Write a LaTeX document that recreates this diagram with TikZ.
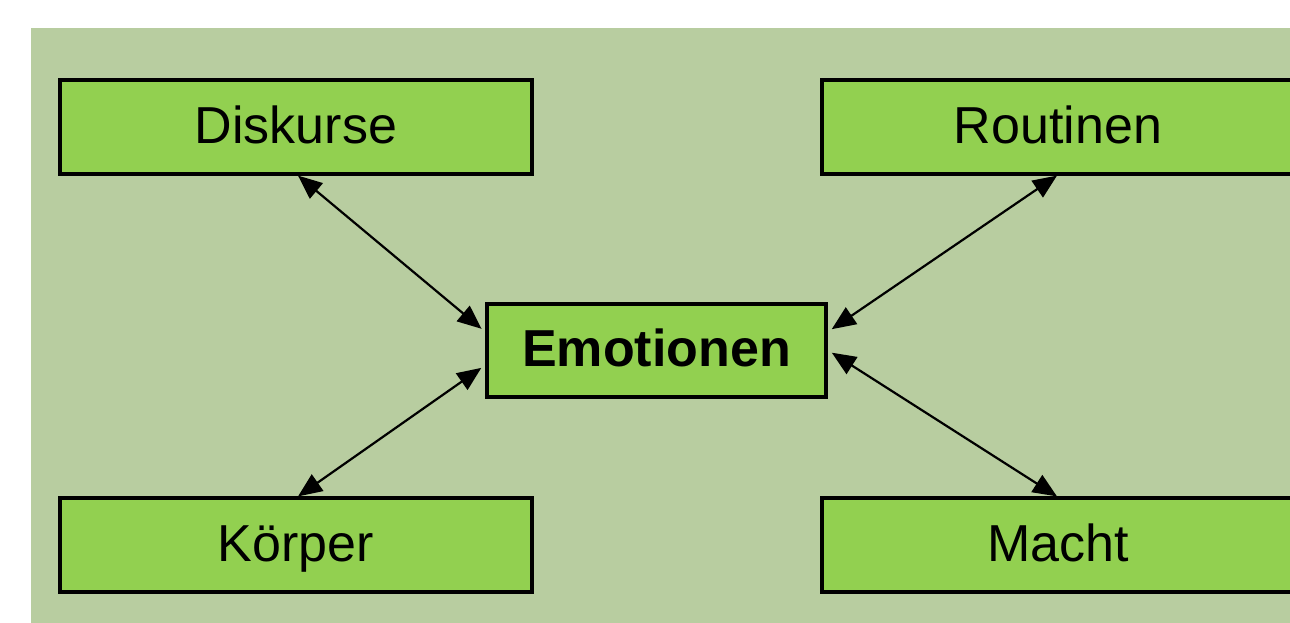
\documentclass[tikz,border=0pt]{standalone}
\usepackage{fontspec}
\setmainfont{Liberation Sans}
\usetikzlibrary{arrows.meta,calc}
\definecolor{bggreen}{HTML}{B8CDA0}
\definecolor{boxgreen}{HTML}{92D050}
\begin{document}
\begin{tikzpicture}[x=1pt,y=-1pt,
  box/.style={draw=black,line width=3.2pt,fill=boxgreen,inner sep=0pt,
    text height=37pt,text depth=5pt,
    minimum width=472pt,minimum height=94pt,font=\fontsize{52}{60}\selectfont},
  link/.style={line width=2.2pt,{Triangle[length=24pt,width=20pt]}-{Triangle[length=24pt,width=20pt]},
    shorten >=5pt}]
\useasboundingbox (0,0) rectangle (1290,622);
\fill[bggreen] (31,28) rectangle (1300,630);
\node[box] (disk) at (296,127) {Diskurse};
\node[box] (rout) at (1058,127) {Routinen};
\node[box] (korp) at (296,545) {Körper};
\node[box] (macht) at (1058,545) {Macht};
\node[box,minimum width=339pt,minimum height=93pt,font=\fontsize{52}{60}\selectfont\bfseries] (emo) at (656.5,350.5) {Emotionen};
\draw[link] ($(disk.south)+(2,0)$) -- ($(emo.west)+(0,-18.5)$);
\draw[link] ($(korp.north)+(2,0)$) -- ($(emo.west)+(0,14.5)$);
\draw[link] ($(rout.south)+(-1,0)$) -- ($(emo.east)+(0,-18.5)$);
\draw[link] ($(macht.north)+(-1,0)$) -- ($(emo.east)+(0,-0.5)$);
\end{tikzpicture}
\end{document}
